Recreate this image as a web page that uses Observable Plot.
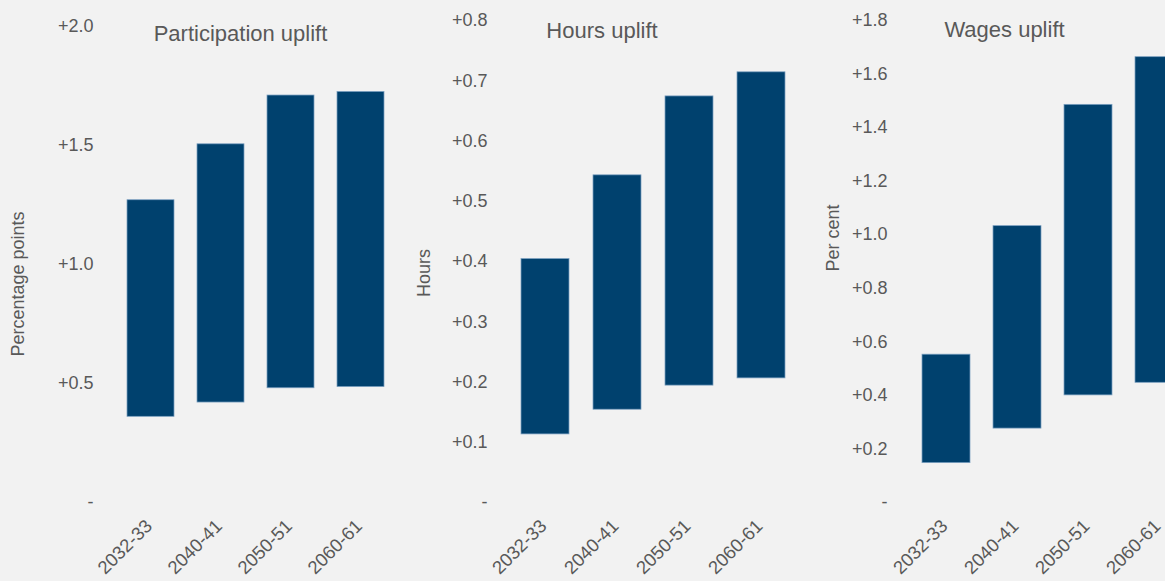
<!DOCTYPE html>
<html>
<head>
<meta charset="utf-8">
<script src="https://cdn.jsdelivr.net/npm/d3@7"></script>
<script src="https://cdn.jsdelivr.net/npm/@observablehq/plot@0.6"></script>
<style>
  html, body { margin: 0; padding: 0; background: #f2f2f2; }
  #chart { position: relative; width: 1165px; height: 581px; overflow: hidden; background: #f2f2f2;
           font-family: "Liberation Sans", Arial, sans-serif; color: #595959; }
  .panel { position: absolute; top: 0; }
  .panel svg { max-width: none !important; display: block; }
  .title { position: absolute; font-size: 22px; line-height: 22px; white-space: nowrap; transform: translateX(-50%); }
  .ylab { position: absolute; font-size: 18px; line-height: 18px; white-space: nowrap;
          transform: translate(-50%, -50%) rotate(-90deg); }
</style>
</head>
<body>
<div id="chart"></div>
<script>
// ---- data ----
const periods = ["2032-33", "2040-41", "2050-51", "2060-61"];

const participationLow  = [0.36, 0.42, 0.48, 0.485];
const participationHigh = [1.27, 1.505, 1.71, 1.725];
const participationTicks = [0, 0.5, 1.0, 1.5, 2.0];

const hoursLow  = [0.113, 0.154, 0.194, 0.206];
const hoursHigh = [0.404, 0.543, 0.674, 0.714];
const hoursTicks = [0, 0.1, 0.2, 0.3, 0.4, 0.5, 0.6, 0.7, 0.8];

const wagesLow  = [0.147, 0.276, 0.40, 0.447];
const wagesHigh = [0.552, 1.032, 1.485, 1.663];
const wagesTicks = [0, 0.2, 0.4, 0.6, 0.8, 1.0, 1.2, 1.4, 1.6, 1.8];

const titles = ["Participation uplift", "Hours uplift", "Wages uplift"];
const yLabels = ["Percentage points", "Hours", "Per cent"];

// ---- layout ----
const chart = document.getElementById("chart");
const fmt = d => d === 0 ? "-" : "+" + d.toFixed(1);

function panel(low, high, ticks, opts) {
  const data = periods.map((p, i) => ({period: p, low: low[i], high: high[i]}));
  const marginLeft = 115;
  const width = opts.width;
  const plot = Plot.plot({
    width,
    height: 581,
    marginLeft,
    marginRight: width - (marginLeft + 4 * opts.step),
    marginTop: opts.marginTop,
    marginBottom: 79,
    style: {background: "transparent", color: "#595959", fontFamily: '"Liberation Sans", Arial, sans-serif', fontSize: "18px", overflow: "visible"},
    x: {domain: periods, paddingInner: 0.33, paddingOuter: 0.165, label: null},
    y: {domain: [0, ticks[ticks.length - 1]], label: null},
    marks: [
      Plot.axisY({ticks, tickFormat: fmt, tickSize: 0, tickPadding: 22, label: null, fontSize: 18}),
      Plot.axisX({tickSize: 0, tickRotate: -45, tickPadding: 20.5, dx: -2, label: null, fontSize: 18.5}),
      Plot.barY(data, {x: "period", y1: "low", y2: "high", fill: "#00416e", stroke: "#7a9fc0", strokeWidth: 0.75})
    ]
  });
  const wrap = document.createElement("div");
  wrap.className = "panel";
  wrap.style.left = opts.left + "px";
  wrap.style.width = width + "px";
  wrap.appendChild(plot);
  chart.appendChild(wrap);

  const t = document.createElement("div");
  t.className = "title";
  t.textContent = opts.title;
  t.style.left = opts.titleX + "px";
  t.style.top = opts.titleTop + "px";
  chart.appendChild(t);

  const yl = document.createElement("div");
  yl.className = "ylab";
  yl.textContent = opts.ylab;
  yl.style.left = opts.ylabX + "px";
  yl.style.top = opts.ylabY + "px";
  chart.appendChild(yl);
}

panel(participationLow, participationHigh, participationTicks,
  {left: 0, width: 400, step: 70, marginTop: 26, title: titles[0], titleX: 240.5, titleTop: 23,
   ylab: yLabels[0], ylabX: 18, ylabY: 284});
panel(hoursLow, hoursHigh, hoursTicks,
  {left: 394, width: 410, step: 72, marginTop: 20, title: titles[1], titleX: 602, titleTop: 20,
   ylab: yLabels[1], ylabX: 424, ylabY: 273});
panel(wagesLow, wagesHigh, wagesTicks,
  {left: 794, width: 410, step: 71.5, marginTop: 20, title: titles[2], titleX: 1004.5, titleTop: 19,
   ylab: yLabels[2], ylabX: 833, ylabY: 238});
</script>
</body>
</html>
